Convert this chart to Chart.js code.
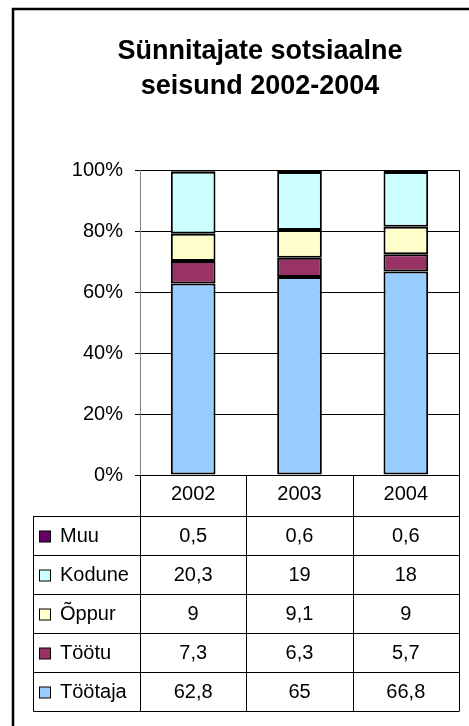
<!DOCTYPE html>
<html>
<head>
<meta charset="utf-8">
<script src="https://cdn.jsdelivr.net/npm/chart.js@4/dist/chart.umd.min.js"></script>
<style>
  html, body { margin:0; padding:0; background:#fff; }
  #wrap { width:469px; height:726px; position:relative; }
</style>
</head>
<body>
<div id="wrap"><canvas id="ch"></canvas></div>
<script>
const categories = ['2002', '2003', '2004'];
const tootaja = [62.8, 65, 66.8];
const tootu = [7.3, 6.3, 5.7];
const oppur = [9, 9.1, 9];
const kodune = [20.3, 19, 18];
const muu = [0.5, 0.6, 0.6];
const seriesNames = ['Töötaja', 'Töötu', 'Õppur', 'Kodune', 'Muu'];
const seriesColors = ['#99CCFF', '#993366', '#FFFFCC', '#CCFFFF', '#660066'];
const yTicks = [0, 20, 40, 60, 80, 100];

const FONT = "'Liberation Sans', Arial, sans-serif";
const series = [tootaja, tootu, oppur, kodune, muu];
// 100% stacked: share of each category total
const totals = categories.map((c, i) => series.reduce((s, arr) => s + arr[i], 0));

const fmt = v => String(v).replace('.', ',');

const frame = {
  id: 'frame',
  beforeDraw(chart){
    const ctx = chart.ctx;
    ctx.save();
    ctx.fillStyle = '#fff';
    ctx.fillRect(0, 0, chart.width, chart.height);
    ctx.strokeStyle = '#000';
    ctx.lineWidth = 2.5;
    ctx.beginPath();
    ctx.moveTo(13, chart.height + 5);
    ctx.lineTo(13, 9);
    ctx.lineTo(chart.width + 5, 9);
    ctx.stroke();
    ctx.restore();
  }
};

const dataTable = {
  id: 'dataTable',
  afterDraw(chart){
    const ctx = chart.ctx, a = chart.chartArea;
    const cw = (a.right - a.left) / categories.length;
    const hdrBottom = 516, rowH = 39, tblLeft = 33.5;
    const nRows = seriesNames.length;
    const tblBottom = hdrBottom + nRows * rowH;
    ctx.save();
    ctx.strokeStyle = '#000';
    ctx.lineWidth = 1;
    ctx.beginPath();
    // right border of plot
    ctx.moveTo(Math.round(a.right) + 0.5, a.top);
    ctx.lineTo(Math.round(a.right) + 0.5, a.bottom);
    for(let i = 0; i <= categories.length; i++){
      const x = Math.round(a.left + i * cw) + 0.5;
      ctx.moveTo(x, a.bottom);
      ctx.lineTo(x, tblBottom);
    }
    for(let r = 0; r <= nRows; r++){
      const y = hdrBottom + r * rowH + 0.5;
      ctx.moveTo(tblLeft, y);
      ctx.lineTo(Math.round(a.right) + 0.5, y);
    }
    ctx.moveTo(tblLeft, hdrBottom);
    ctx.lineTo(tblLeft, tblBottom + 0.5);
    ctx.stroke();

    ctx.font = '20px ' + FONT;
    ctx.textBaseline = 'middle';
    for(let r = 0; r < nRows; r++){
      const si = nRows - 1 - r; // Muu on top
      const cy = hdrBottom + r * rowH + rowH / 2 + 1;
      ctx.fillStyle = seriesColors[si];
      ctx.fillRect(39.5, cy - 5.5, 11, 11);
      ctx.strokeRect(39.5, cy - 5.5, 11, 11);
      ctx.fillStyle = '#000';
      ctx.textAlign = 'left';
      ctx.fillText(seriesNames[si], 60, cy);
      ctx.textAlign = 'center';
      series[si].forEach((v, i) => {
        ctx.fillText(fmt(v), a.left + (i + 0.5) * cw, cy);
      });
    }
    ctx.restore();
  }
};

new Chart(document.getElementById('ch'), {
  type: 'bar',
  data: {
    labels: categories,
    datasets: series.map((arr, k) => ({
      label: seriesNames[k],
      data: arr.map((v, i) => v / totals[i] * 100),
      backgroundColor: seriesColors[k],
      borderColor: '#000',
      borderWidth: 2,
      borderSkipped: false,
      categoryPercentage: 1,
      barPercentage: 0.42
    }))
  },
  options: {
    responsive: true,
    maintainAspectRatio: false,
    animation: false,
    layout: { padding: { left: 61, right: 10, top: 0, bottom: 0 } },
    plugins: {
      legend: { display: false },
      tooltip: { enabled: false },
      title: {
        display: true,
        text: ['Sünnitajate sotsiaalne', 'seisund 2002-2004'],
        color: '#000',
        font: { family: FONT, size: 27, weight: 'bold', lineHeight: 1.3 },
        padding: { top: 34, bottom: 66 }
      }
    },
    scales: {
      x: {
        stacked: true,
        grid: { display: false, drawTicks: false },
        border: { display: false },
        ticks: { color: '#000', font: { family: FONT, size: 20 }, padding: 7, maxRotation: 0 },
        afterFit(s){ s.height = 251; }
      },
      y: {
        stacked: true,
        min: 0,
        max: 100,
        afterBuildTicks(s){ s.ticks = yTicks.map(v => ({ value: v })); },
        grid: { color: '#000', lineWidth: 1, drawTicks: true, tickLength: 5 },
        border: { color: '#808080', width: 1 },
        ticks: { color: '#000', font: { family: FONT, size: 20 }, padding: 12, callback: v => v + '%' },
        afterFit(s){ s.width = 79; }
      }
    }
  },
  plugins: [frame, dataTable]
});
</script>
</body>
</html>
